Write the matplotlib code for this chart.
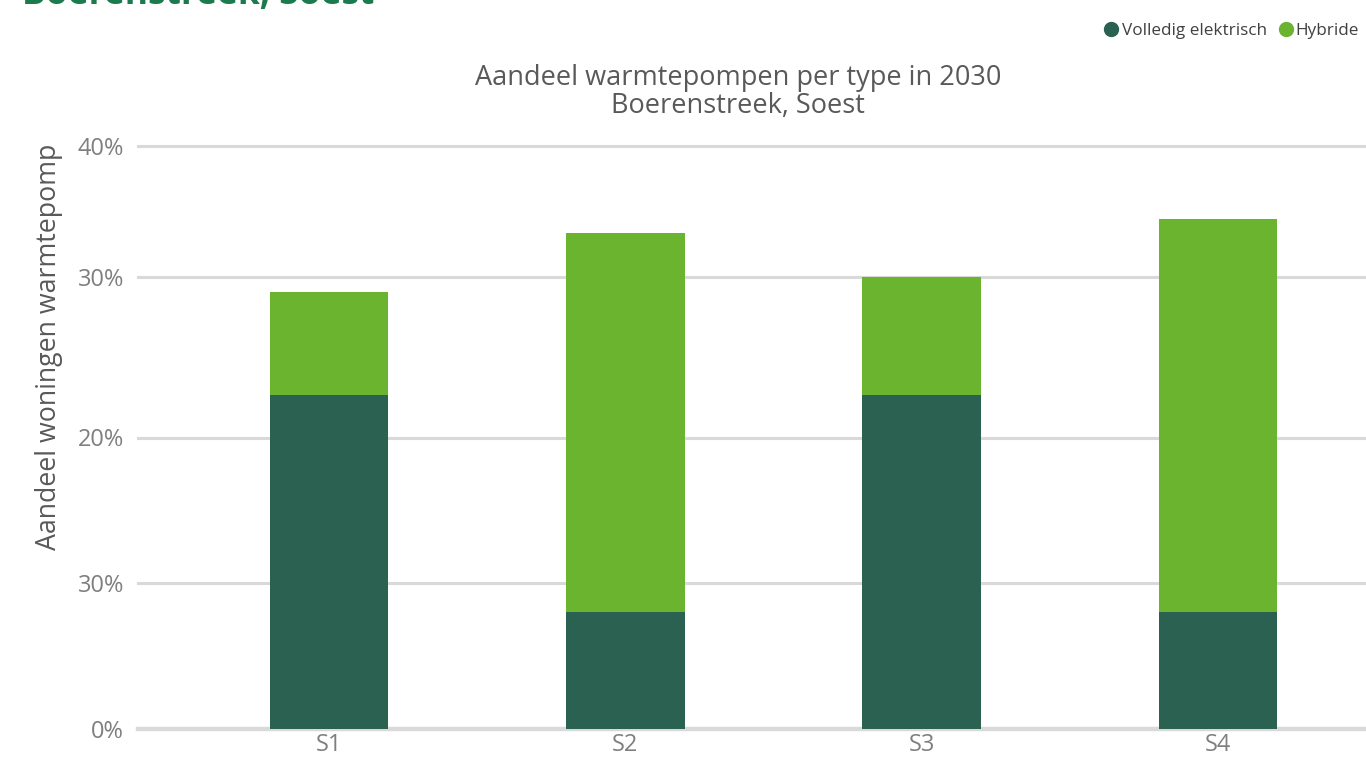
import numpy as np
import matplotlib.pyplot as plt

# Heat pump share per scenario (percent of dwellings)
scenarios = ["S1", "S2", "S3", "S4"]
volledig_elektrisch = [22.9, 8.0, 22.9, 8.0]
hybride = [7.1, 26.0, 8.1, 27.0]

# Axis ticks as shown on the chart
y_ticks = [0, 10, 20, 31, 40]
y_tick_labels = ["0%", "30%", "20%", "30%", "40%"]

DARK = "#2b6150"
LIGHT = "#6ab42f"
GRID = "#d9d9d9"
TEXT = "#7f7f7f"

plt.rcParams["font.family"] = ["Open Sans", "DejaVu Sans"]

fig = plt.figure(figsize=(13.66, 7.58), dpi=100)
ax = fig.add_axes([138 / 1366, 29 / 758, 1228 / 1366, 583 / 758])

x = np.arange(len(scenarios))
width = 0.4
ax.bar(x, volledig_elektrisch, width, color=DARK, zorder=3, label="Volledig elektrisch")
ax.bar(x, hybride, width, bottom=volledig_elektrisch, color=LIGHT, zorder=3, label="Hybride")

ax.set_xlim(-0.645, 3.5)
ax.set_ylim(0, 40)
ax.set_xticks(x)
ax.set_xticklabels(scenarios)
ax.set_yticks(y_ticks)
ax.set_yticklabels(y_tick_labels)
ax.tick_params(axis="both", length=0, labelsize=17, labelcolor=TEXT)
ax.tick_params(axis="x", pad=3)
ax.tick_params(axis="y", pad=10)

# Horizontal gridlines, heavier baseline
for t in y_ticks:
    ax.axhline(t, color=GRID, lw=3.2 if t == 0 else 2.2, zorder=1, clip_on=False)
for s in ax.spines.values():
    s.set_visible(False)

ax.set_ylabel("Aandeel woningen warmtepomp", fontsize=19.3, color="#595959")
ax.yaxis.set_label_coords(-75 / 1228, 0.656)

fig.text(738 / 1366, 1 - 92 / 758, "Aandeel warmtepompen per type in 2030\nBoerenstreek, Soest",
         ha="center", va="center", fontsize=19.5, color="#595959", linespacing=1.0)

# Page heading, partly cut off at the top edge
fig.text(22 / 1366, 1 - 4 / 758, "Boerenstreek, Soest", ha="left", va="baseline",
         fontsize=25.5, fontweight="bold", color="#1b7a4e")

# Legend in the top right corner
handles = [plt.Line2D([], [], marker="o", ls="", color=DARK, markersize=10),
           plt.Line2D([], [], marker="o", ls="", color=LIGHT, markersize=10)]
fig.legend(handles, ["Volledig elektrisch", "Hybride"], loc="upper right",
           bbox_to_anchor=(1, 1 - 16 / 758), ncol=2, frameon=False,
           fontsize=12.3, labelcolor="#404040", handletextpad=0.1, columnspacing=0.6,
           borderaxespad=0, handlelength=1.0)

fig.savefig("out.png", dpi=100)
